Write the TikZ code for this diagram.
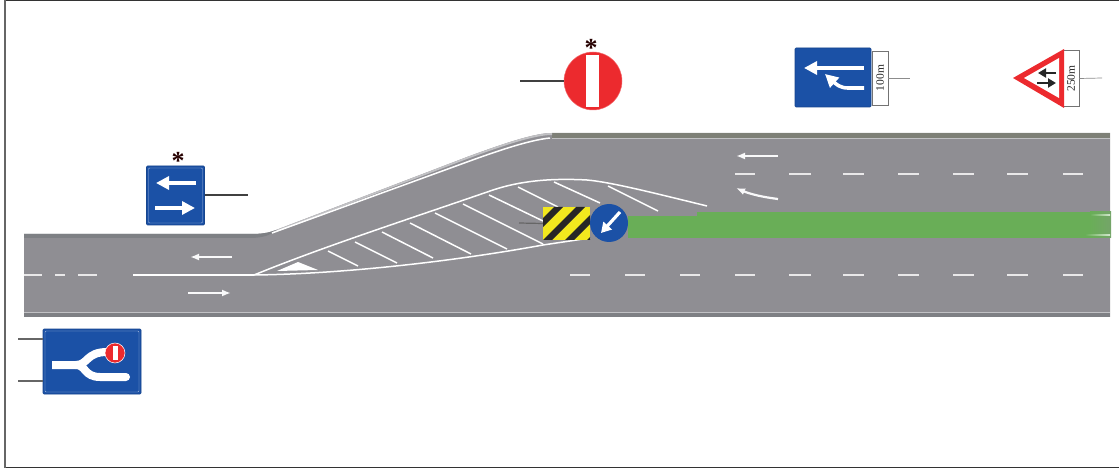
\documentclass[tikz,border=0pt]{standalone}
\usepackage{fontspec}
\setmainfont{Liberation Serif}
\usetikzlibrary{arrows.meta}
\definecolor{roadgrey}{HTML}{8F8E93}
\definecolor{edgegrey}{HTML}{7E8084}
\definecolor{signblue}{HTML}{1B51A6}
\definecolor{signred}{HTML}{EC2A2E}
\definecolor{lanegreen}{HTML}{69AE57}
\definecolor{hazyellow}{HTML}{F2E81E}
\tikzset{
  marking/.style={draw=white,line width=1.5pt},
  dashmark/.style={draw=white!80!roadgrey,line width=1.8pt},
  roadarrow/.style={draw=white!95!roadgrey,line width=1.8pt,-{Latex[length=9pt,width=7pt]}},
  signarrow/.style={draw=white,line width=3.6pt,-{Triangle[length=13pt,width=13pt]}},
  leader/.style={draw=black!75,line width=1.2pt},
  thinleader/.style={draw=black!45,line width=.7pt},
  bluesign/.style={rectangle,fill=signblue,draw=signblue!85!black,line width=.6pt,rounded corners=1pt,inner sep=0pt},
  platepanel/.style={rectangle,fill=white,draw=black!55,line width=.9pt,inner sep=0pt,minimum width=16pt,minimum height=54pt},
  platetext/.style={rotate=90,font=\fontsize{11.5}{11.5}\selectfont,text=black!85},
  starmark/.style={font=\fontsize{26}{26}\bfseries\selectfont,text=black!85!red,inner sep=0pt},
}
\begin{document}
\begin{tikzpicture}[x=1pt,y=-1pt]
\useasboundingbox (0,0) rectangle (1119,470);
% frame
\draw[black!80,line width=1pt] (4,0.5) -- (1119,0.5);
\draw[black!80,line width=1.2pt] (4,467.6) -- (1119,467.6);
\draw[black!60,line width=2pt] (5,0) -- (5,468);
% road
\fill[roadgrey] (24,234) -- (250,234) .. controls (262,234) and (268,233) .. (276,230)
  -- (467,157) .. controls (505,143) and (535,133) .. (552,133) -- (1110,133) -- (1110,317) -- (24,317) -- cycle;
\fill[edgegrey] (24,234) -- (250,234) .. controls (262,234) and (268,233) .. (276,230) -- (272,233) .. controls (268,236) and (260,238) .. (250,238) -- (24,238) -- cycle;
\fill[edgegrey!90!olive] (552,133) -- (1110,133) -- (1110,138) -- (552,138) -- cycle;
\fill[edgegrey] (24,312) rectangle (1110,317);
\draw[white!45!roadgrey,line width=.6pt] (552,138) -- (1110,138) (24,312) -- (1110,312);
\fill[white!45!roadgrey] (276,230) -- (467,157) .. controls (505,143) and (535,133) .. (552,133) -- (552,135) .. controls (535,135) and (505,145) .. (467,159) -- (278,231) -- cycle;
% green lane
\fill[lanegreen] (628,216) rectangle (697,238);
\fill[lanegreen] (697,212) rectangle (1090,238);
\shade[left color=lanegreen,right color=lanegreen!70!roadgrey] (1090,212) rectangle (1111,238);
\shade[left color=lanegreen,right color=white!70!lanegreen] (1090,214.6) rectangle (1110,215.6);
\shade[left color=lanegreen,right color=white!70!lanegreen] (1085,234.6) rectangle (1110,235.6);
% edge line of the widening
\draw[marking] (272,233) -- (467,162) .. controls (500,150) and (530,140) .. (550,138);
% centre line
\foreach \a/\b in {24/42,55/65,78/97}{\draw[dashmark] (\a,275) -- (\b,275);}
\draw[marking,line width=1.2pt] (133,275) -- (254,275);
\foreach \a/\b in {570/590,625/645,680/700,735/755,789/811,843/864,898/919,953/974,1007/1028,1063/1083}{\draw[dashmark] (\a,275) -- (\b,275);}
\foreach \a/\b in {735/755,789/811,843/864,898/919,953/974,1007/1028,1063/1083}{\draw[dashmark] (\a,174) -- (\b,174);}
% island
\draw[marking] (254,275) .. controls (320,248) and (400,222) .. (493,190) .. controls (520,181) and (550,178) .. (587,180) .. controls (610,182) and (650,192) .. (707,206);
\draw[marking] (254,275) .. controls (340,274) and (450,262) .. (543,245) -- (590,238);
\fill[white] (277,271) -- (298,262) -- (318,270) -- cycle;
\foreach \a/\b/\c/\d in {328/251/358/266,355/242/397/263,382/232/433/258,410/223/471/254,435/213/507/249,463/204/543/244,489/195/543/221,518/187/558/207,554/182/600/203,608/186/658/211}{
  \draw[marking] (\a,\b) -- (\c,\d);}
% road arrows
\draw[roadarrow] (232,257) -- (190,257);
\draw[roadarrow] (188,293) -- (231,293);
\draw[roadarrow] (778,156) -- (736,156);
\draw[roadarrow,line width=2.2pt] (778,199) .. controls (762,197) and (750,194) .. (736,188);
% hazard board
\node[rectangle,minimum width=47pt,minimum height=33pt,inner sep=0pt,fill=hazyellow] (hazard) at (566.5,223.5) {};
\begin{scope}
\clip (543,207) rectangle (590,240);
\foreach \k in {0,22,44,66}{\fill[black!85] (\k+521,240) -- (\k+530,240) -- (\k+563,207) -- (\k+554,207) -- cycle;}
\end{scope}
\coordinate (hazardend) at (519,223);
\draw[leader,black!60] (hazardend) -- (hazard.west);
% keep-left disc
\node[circle,fill=signblue,minimum size=38pt,inner sep=0pt] (keepleft) at (609,223) {};
\draw[signarrow,line width=3.2pt,-{Triangle[length=10pt,width=11pt]}] (620,212) -- (601,233);
% left two-way sign
\node[bluesign,minimum width=58pt,minimum height=59pt] (twoway) at (175.5,195.5) {};
\draw[white!60!signblue,line width=.4pt,rounded corners=1pt] (148.5,168) rectangle (202.5,223);
\draw[signarrow] (196,183) -- (156,183);
\draw[signarrow] (155,208) -- (195,208);
\node[starmark] (stara) at (178,161) {*};
\coordinate (twowayend) at (248,195);
\draw[leader] (twoway.east |- twowayend) -- (twowayend);
% bottom-left diagram sign
\node[bluesign,minimum width=98pt,minimum height=65pt] (forksign) at (92,361.5) {};
\draw[white!60!signblue,line width=.4pt,rounded corners=1pt] (45,331) rectangle (139,392);
\draw[white,line width=8pt] (52,365) -- (76,365) .. controls (88,365) and (86,352) .. (107,352);
\draw[white,line width=8pt,line cap=round] (76,365) .. controls (86,365) and (84,377) .. (100,377) -- (126,377);
\node[circle,fill=signred,draw=white,line width=.5pt,minimum size=20pt,inner sep=0pt] (forkred) at (115,353) {};
\fill[white] (112.5,346) rectangle (117.5,360);
\coordinate (forkupper) at (18,339);
\coordinate (forklower) at (18,381);
\draw[leader,black!60] (forkupper) -- (forksign.west |- forkupper);
\draw[leader,black!60] (forklower) -- (forksign.west |- forklower);
% no-entry sign
\node[circle,fill=signred,draw=signred!70!white,line width=.5pt,minimum size=58pt,inner sep=0pt] (noentry) at (593,81) {};
\fill[white] (586,55) rectangle (599,107);
\node[starmark] (starb) at (591,48) {*};
\coordinate (noentryend) at (520,81);
\draw[leader] (noentryend) -- (noentry.west);
% lane-addition sign
\node[platepanel] (plateone) at (880,78) {};
\node[platetext] at (plateone.center) {100m};
\node[bluesign,minimum width=76pt,minimum height=59pt] (lanesign) at (833,77.5) {};
\draw[signarrow] (864,68) -- (804,68);
\draw[signarrow] (864,88) -- (848,88) .. controls (840,88) and (836,84) .. (825,74);
\coordinate (plateoneend) at (910,78);
\draw[thinleader] (plateone.east) -- (plateoneend);
% warning triangle
\node[platepanel,minimum width=16pt,minimum height=56pt] (platetwo) at (1071,78.5) {};
\node[platetext] at (platetwo.center) {250m};
\fill[signred] (1013,78) -- (1064,49) -- (1064,108) -- cycle;
\fill[white] (1024,78) -- (1059,58) -- (1059,98) -- cycle;
\draw[black!85,line width=2.2pt,-{Triangle[length=8pt,width=9pt]}] (1056,73) -- (1038,73);
\draw[black!85,line width=2.2pt,-{Triangle[length=8pt,width=9pt]}] (1037,83) -- (1056,83);
\coordinate (platetwoend) at (1102,78);
\draw[thinleader] (platetwo.east) -- (platetwoend);
\end{tikzpicture}
\end{document}
